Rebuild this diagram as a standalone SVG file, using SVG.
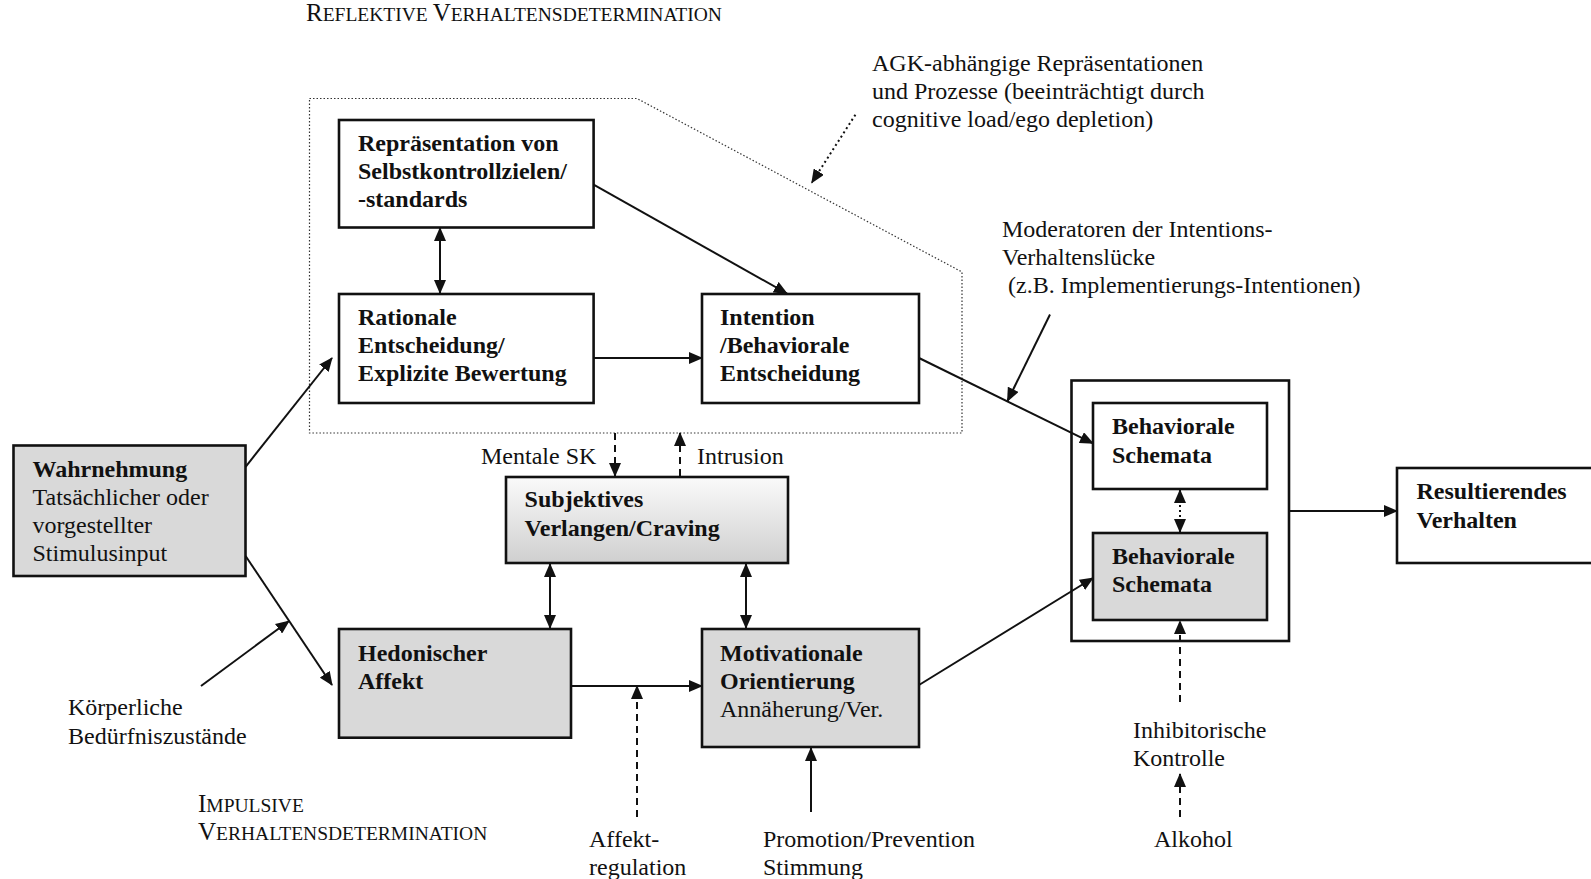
<svg xmlns="http://www.w3.org/2000/svg" width="1591" height="879" viewBox="0 0 1591 879">
<style>
text{font-family:"Liberation Serif","Times New Roman",serif;font-size:24px;fill:#111}
.b{font-weight:bold}
.box{stroke:#111;stroke-width:2.6;fill:#fff}
.g{fill:#d9d9d9}
.c{stroke:#111;stroke-width:2;fill:none}
.dash{stroke-dasharray:7 5}
.dot{stroke-dasharray:2 3}
.sc1{font-size:25px}
.sc2{font-size:19.5px}
</style>
<defs>
<marker id="ah" viewBox="0 0 14 12" refX="13" refY="6" markerWidth="14" markerHeight="12" markerUnits="userSpaceOnUse" orient="auto-start-reverse">
<path d="M0,0 L14,6 L0,12 z" fill="#111"/>
</marker>
<linearGradient id="grad" x1="0" y1="0" x2="0" y2="1">
<stop offset="0" stop-color="#fafafa"/>
<stop offset="1" stop-color="#cfcfcf"/>
</linearGradient>
</defs>
<rect width="1591" height="879" fill="#fff"/>

<g id="labels">
<text x="306" y="21"><tspan class="sc1">R</tspan><tspan class="sc2">EFLEKTIVE </tspan><tspan class="sc1">V</tspan><tspan class="sc2">ERHALTENSDETERMINATION</tspan></text>
<text x="198" y="812"><tspan class="sc1">I</tspan><tspan class="sc2">MPULSIVE</tspan></text>
<text x="198" y="840"><tspan class="sc1">V</tspan><tspan class="sc2">ERHALTENSDETERMINATION</tspan></text>
<text x="872" y="71">AGK-abhängige Repräsentationen</text>
<text x="872" y="99">und Prozesse (beeinträchtigt durch</text>
<text x="872" y="127">cognitive load/ego depletion)</text>
<text x="1002" y="237">Moderatoren der Intentions-</text>
<text x="1002" y="265">Verhaltenslücke</text>
<text x="1002" y="293" xml:space="preserve"> (z.B. Implementierungs-Intentionen)</text>
<text x="68" y="715">Körperliche</text>
<text x="68" y="744">Bedürfniszustände</text>
<text x="481" y="464">Mentale SK</text>
<text x="697" y="464">Intrusion</text>
<text x="589" y="847">Affekt-</text>
<text x="589" y="875">regulation</text>
<text x="763" y="847">Promotion/Prevention</text>
<text x="763" y="875">Stimmung</text>
<text x="1133" y="738">Inhibitorische</text>
<text x="1133" y="766">Kontrolle</text>
<text x="1154" y="847">Alkohol</text>
</g>

<g id="reflective-region">
<polygon points="309.5,98.5 637,98.5 962,272 962,433 309.5,433" fill="none" stroke="#333" stroke-width="1.2" stroke-dasharray="1.5 2"/>
</g>

<g id="node-rep">
<rect class="box" x="339" y="120" width="254.6" height="107.5"/>
<text class="b" x="358" y="151">Repräsentation von</text>
<text class="b" x="358" y="179">Selbstkontrollzielen/</text>
<text class="b" x="358" y="207">-standards</text>
</g>
<g id="node-rational">
<rect class="box" x="339" y="294" width="254.6" height="109"/>
<text class="b" x="358" y="325">Rationale</text>
<text class="b" x="358" y="353">Entscheidung/</text>
<text class="b" x="358" y="381">Explizite Bewertung</text>
</g>
<g id="node-intention">
<rect class="box" x="702" y="294" width="217" height="109"/>
<text class="b" x="720" y="325">Intention</text>
<text class="b" x="720" y="353">/Behaviorale</text>
<text class="b" x="720" y="381">Entscheidung</text>
</g>
<g id="node-wahrnehmung">
<rect class="box g" x="13.5" y="445.5" width="232" height="130.5"/>
<text class="b" x="32.5" y="477">Wahrnehmung</text>
<text x="32.5" y="505">Tatsächlicher oder</text>
<text x="32.5" y="533">vorgestellter</text>
<text x="32.5" y="561">Stimulusinput</text>
</g>
<g id="node-subjektiv">
<rect class="box" style="fill:url(#grad)" x="506" y="477" width="282" height="86"/>
<text class="b" x="524.6" y="507">Subjektives</text>
<text class="b" x="524.6" y="536">Verlangen/Craving</text>
</g>
<g id="node-hedonisch">
<rect class="box g" x="339" y="629" width="232" height="108.7"/>
<text class="b" x="358" y="661">Hedonischer</text>
<text class="b" x="358" y="689">Affekt</text>
</g>
<g id="node-motivational">
<rect class="box g" x="702" y="629" width="217" height="118"/>
<text class="b" x="720" y="661">Motivationale</text>
<text class="b" x="720" y="689">Orientierung</text>
<text x="720" y="717">Annäherung/Ver.</text>
</g>
<g id="node-schemata-container">
<rect class="box" x="1071.5" y="380.5" width="217.5" height="260.5"/>
</g>
<g id="node-schemata-upper">
<rect class="box" x="1093" y="403" width="174" height="86"/>
<text class="b" x="1112" y="434">Behaviorale</text>
<text class="b" x="1112" y="463">Schemata</text>
</g>
<g id="node-schemata-lower">
<rect class="box g" x="1093" y="533" width="174" height="87"/>
<text class="b" x="1112" y="564">Behaviorale</text>
<text class="b" x="1112" y="592">Schemata</text>
</g>
<g id="node-resultierend">
<rect class="box" x="1397" y="468" width="200" height="95"/>
<text class="b" x="1416.5" y="499">Resultierendes</text>
<text class="b" x="1416.5" y="528">Verhalten</text>
</g>

<g id="connectors">
<line class="c" x1="440" y1="228" x2="440" y2="293" marker-start="url(#ah)" marker-end="url(#ah)"/>
<line class="c" x1="593.6" y1="184.7" x2="787" y2="293.5" marker-end="url(#ah)"/>
<line class="c" x1="593.6" y1="358" x2="702" y2="358" marker-end="url(#ah)"/>
<line class="c" x1="919" y1="358" x2="1093" y2="443.4" marker-end="url(#ah)"/>
<line class="c" x1="1050" y1="314.5" x2="1007.5" y2="401" marker-end="url(#ah)"/>
<line class="c dot" stroke-width="1.6" x1="855.4" y1="114.7" x2="811.8" y2="182.6" marker-end="url(#ah)"/>
<line class="c" x1="245.6" y1="466.8" x2="332" y2="358" marker-end="url(#ah)"/>
<line class="c" x1="245.6" y1="556" x2="332" y2="685" marker-end="url(#ah)"/>
<line class="c" x1="201" y1="686" x2="289" y2="621" marker-end="url(#ah)"/>
<line class="c dash" x1="615" y1="433" x2="615" y2="476" marker-end="url(#ah)"/>
<line class="c dash" x1="680" y1="476" x2="680" y2="433" marker-end="url(#ah)"/>
<line class="c" x1="550" y1="564" x2="550" y2="628" marker-start="url(#ah)" marker-end="url(#ah)"/>
<line class="c" x1="746" y1="564" x2="746" y2="628" marker-start="url(#ah)" marker-end="url(#ah)"/>
<line class="c" x1="571" y1="686" x2="702" y2="686" marker-end="url(#ah)"/>
<line class="c dash" x1="637" y1="817" x2="637" y2="686" marker-end="url(#ah)"/>
<line class="c" x1="811" y1="812" x2="811" y2="748" marker-end="url(#ah)"/>
<line class="c" x1="919" y1="685" x2="1093" y2="578" marker-end="url(#ah)"/>
<line class="c dot" x1="1180" y1="490" x2="1180" y2="532" marker-start="url(#ah)" marker-end="url(#ah)"/>
<line class="c dash" x1="1180" y1="702" x2="1180" y2="621" marker-end="url(#ah)"/>
<line class="c dash" x1="1180" y1="817" x2="1180" y2="774" marker-end="url(#ah)"/>
<line class="c" x1="1289" y1="511" x2="1397" y2="511" marker-end="url(#ah)"/>
</g>
</svg>
